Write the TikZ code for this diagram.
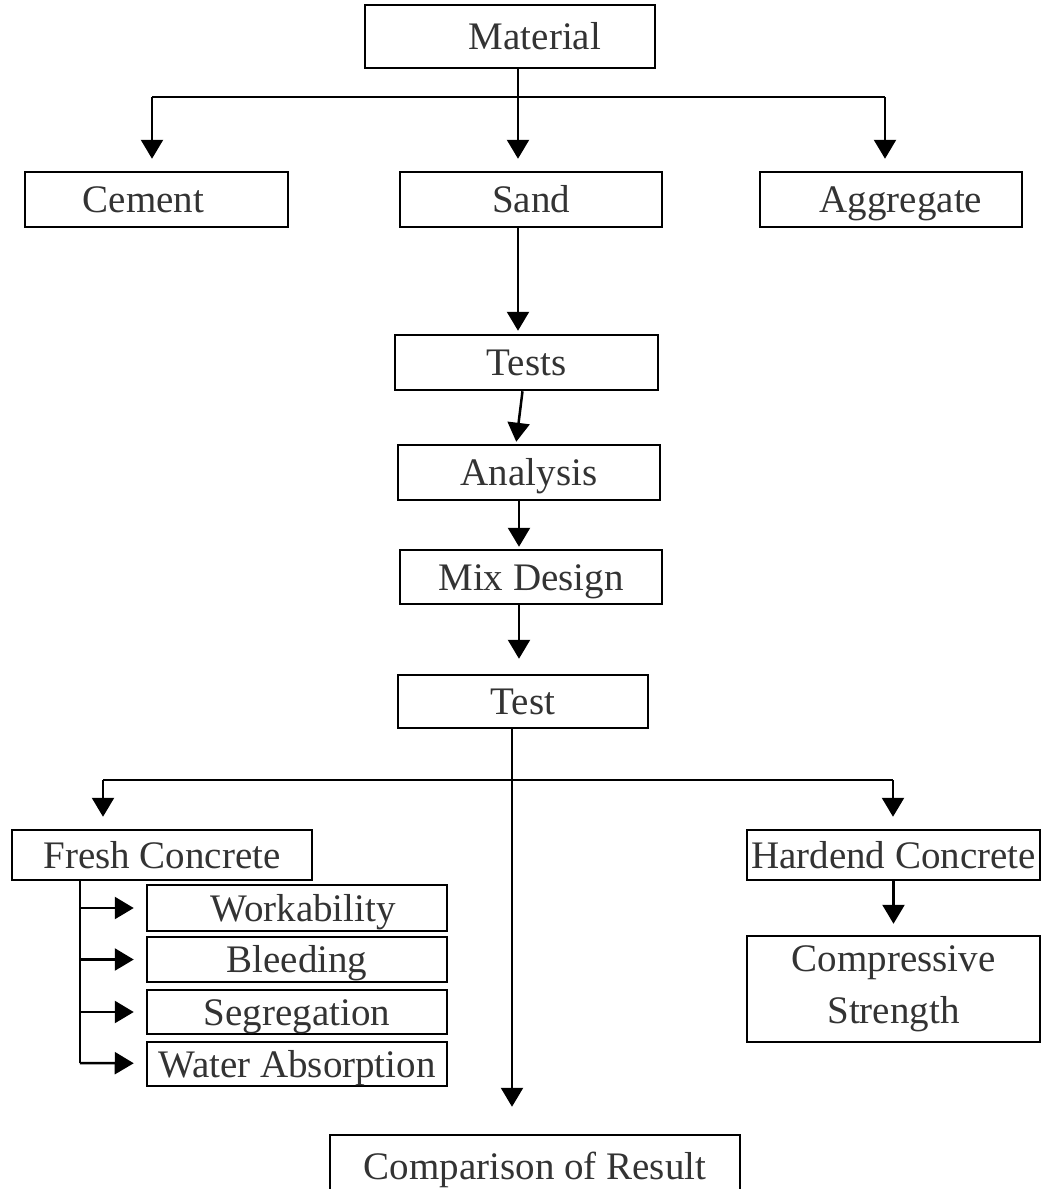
\documentclass[tikz,border=0pt]{standalone}
\usepackage{fontspec}
\setmainfont{Liberation Serif}
\usetikzlibrary{calc}
\usetikzlibrary{positioning}
\usetikzlibrary{arrows.meta}

\begin{document}
\begin{tikzpicture}[x=1pt,y=-1pt,line width=2.5pt,
    basebox/.style={draw,line width=2.5pt,text=black!80,inner sep=0pt,align=center,
      font=\fontsize{39}{52}\selectfont},
    box/.style={basebox,text height=30pt,text depth=4pt},
    arr/.style={-{Triangle[length=19pt,width=22pt]},shorten >=12pt}]
  \useasboundingbox (0,0) rectangle (1045,1189);

  % top level
  \node[box,minimum width=290pt,minimum height=63pt] (mat) at (510,36.5) {\hspace*{50pt}Material};
  \node[box,minimum width=263pt,minimum height=55pt] (cem) at (156.5,199.5) {Cement\hspace*{26pt}};
  \node[box,minimum width=262pt,minimum height=55pt] (sand) at (531,199.5) {Sand};
  \node[box,minimum width=262pt,minimum height=55pt] (agg) at (891,199.5) {\hspace*{20pt}Aggregate};

  % middle chain
  \node[box,minimum width=263pt,minimum height=55pt] (tests) at (526.5,362.5) {Tests};
  \node[box,minimum width=262pt,minimum height=55pt] (anal) at (529,472.5) {Analysis};
  \node[box,minimum width=262pt,minimum height=54pt] (mix) at (531,577) {Mix Design};
  \node[box,minimum width=250pt,minimum height=53pt] (test) at (523,701.5) {Test};

  % fresh / hardend
  \node[box,minimum width=300pt,minimum height=50pt] (fresh) at (162,855) {Fresh Concrete};
  \node[box,minimum width=293pt,minimum height=50pt] (hard) at (893.5,855) {Hardend Concrete};
  \node[box,minimum width=300pt,minimum height=46pt] (work) at (297,908) {\hspace*{12pt}Workability};
  \node[box,minimum width=300pt,minimum height=45pt] (bleed) at (297,959.5) {Bleeding};
  \node[box,minimum width=300pt,minimum height=44pt] (seg) at (297,1012) {Segregation};
  \node[box,minimum width=300pt,minimum height=44pt] (water) at (297,1064) {Water Absorption};
  \node[basebox,minimum width=293pt,minimum height=106pt] (comp) at (893.5,989) {Compressive\\Strength};
  \node[box,minimum width=410pt,minimum height=62pt] (cmp) at (535,1166) {Comparison of Result};

  % branch points
  \coordinate (b1) at (152,97);
  \coordinate (b2) at (518,97);
  \coordinate (b3) at (885,97);
  \coordinate (h1) at (103,780);
  \coordinate (h2) at (893,780);
  \coordinate (fk) at (80,1063);

  \draw (b1) -- (b3);
  \draw (mat.south -| b2) -- (b2);
  \draw[arr] (b1) -- (cem.north -| b1);
  \draw[arr] (b2) -- (sand.north -| b2);
  \draw[arr] (b3) -- (agg.north -| b3);

  \draw[arr,shorten >=3pt] (sand.south -| b2) -- (tests.north -| b2);
  \draw[arr,shorten >=2pt] ($(tests.south)+(-4,0)$) -- ($(anal.north)+(-13,0)$);
  \draw[arr,shorten >=2pt] ($(anal.south)+(-10,0)$) -- ($(mix.north)+(-12,0)$);
  \draw[arr,shorten >=15pt] ($(mix.south)+(-12,0)$) -- ($(test.north)+(-4,0)$);
  \draw[arr,shorten >=27pt] ($(test.south)+(-11,0)$) -- ($(cmp.north)+(-23,0)$);

  \draw (h1) -- (h2);
  \draw[arr] (h1) -- (fresh.north -| h1);
  \draw[arr] (h2) -- (hard.north -| h2);
  \draw[arr,shorten >=11pt] (hard.south) -- (comp.north);

  \draw (fresh.south -| fk) -- (fk);
  \draw[arr] (fk |- work) -- (work);
  \draw[arr] (fk |- bleed) -- (bleed);
  \draw[arr] (fk |- seg) -- (seg);
  \draw[arr] (fk) -- (water);
\end{tikzpicture}
\end{document}
